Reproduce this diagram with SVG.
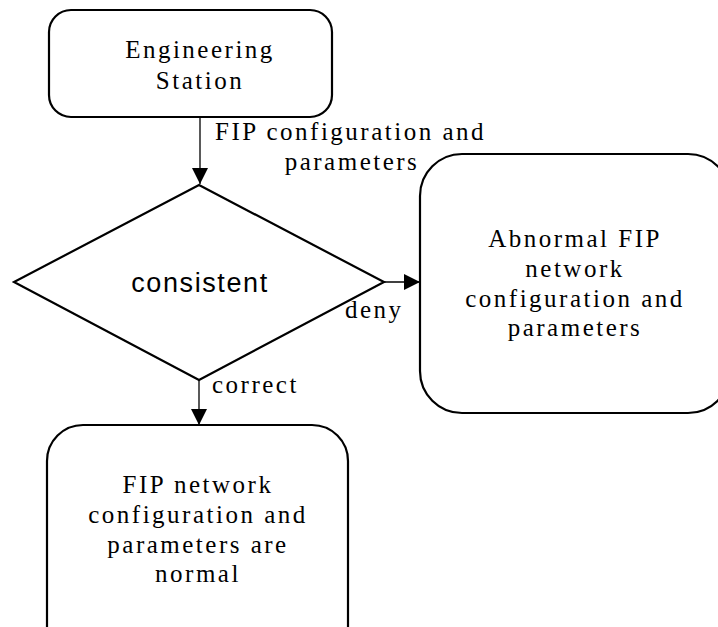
<svg xmlns="http://www.w3.org/2000/svg" width="718" height="627" viewBox="0 0 718 627">
<style>
.box{fill:#fff;stroke:#000;stroke-width:2.2}
.t{font-family:"Liberation Serif","Times New Roman",serif;font-size:25px;letter-spacing:2.5px;fill:#000}
.c{text-anchor:middle}
.s{font-family:"Liberation Sans",Arial,sans-serif;font-size:27px;letter-spacing:1.6px;fill:#000}
.ln{stroke:#000;stroke-width:1.3;fill:none}
</style>
<defs>
<marker id="ah" viewBox="0 0 10 10" refX="10" refY="5" markerWidth="16" markerHeight="16" markerUnits="userSpaceOnUse" orient="auto">
<path d="M0,0 L10,5 L0,10 Z" fill="#000"/>
</marker>
</defs>
<rect width="718" height="627" fill="#fff"/>
<g id="connectors">
<line class="ln" x1="200" y1="117" x2="200" y2="184" marker-end="url(#ah)"/>
<line class="ln" x1="384" y1="282" x2="420" y2="282" marker-end="url(#ah)"/>
<line class="ln" x1="199" y1="380" x2="199" y2="425" marker-end="url(#ah)"/>
<text class="t" x="215" y="140">FIP configuration and</text>
<text class="t c" x="352" y="170">parameters</text>
<text class="t" x="345" y="318">deny</text>
<text class="t" x="212" y="393">correct</text>
</g>
<g id="engineering-station">
<rect class="box" x="49" y="10" width="283" height="107" rx="22"/>
<text class="t c" x="200" y="58">Engineering</text>
<text class="t c" x="200" y="89">Station</text>
</g>
<g id="consistent">
<polygon class="box" points="199,185 384,282 199,380 14,282"/>
<text class="s c" x="200" y="292">consistent</text>
</g>
<g id="abnormal">
<rect class="box" x="420" y="154" width="310" height="259" rx="42"/>
<text class="t c" x="575" y="247">Abnormal FIP</text>
<text class="t c" x="575" y="277">network</text>
<text class="t c" x="575" y="307">configuration and</text>
<text class="t c" x="575" y="336">parameters</text>
</g>
<g id="normal">
<rect class="box" x="47" y="425" width="301" height="240" rx="36"/>
<text class="t c" x="198" y="493">FIP network</text>
<text class="t c" x="198" y="523">configuration and</text>
<text class="t c" x="198" y="553">parameters are</text>
<text class="t c" x="198" y="582">normal</text>
</g>
</svg>
